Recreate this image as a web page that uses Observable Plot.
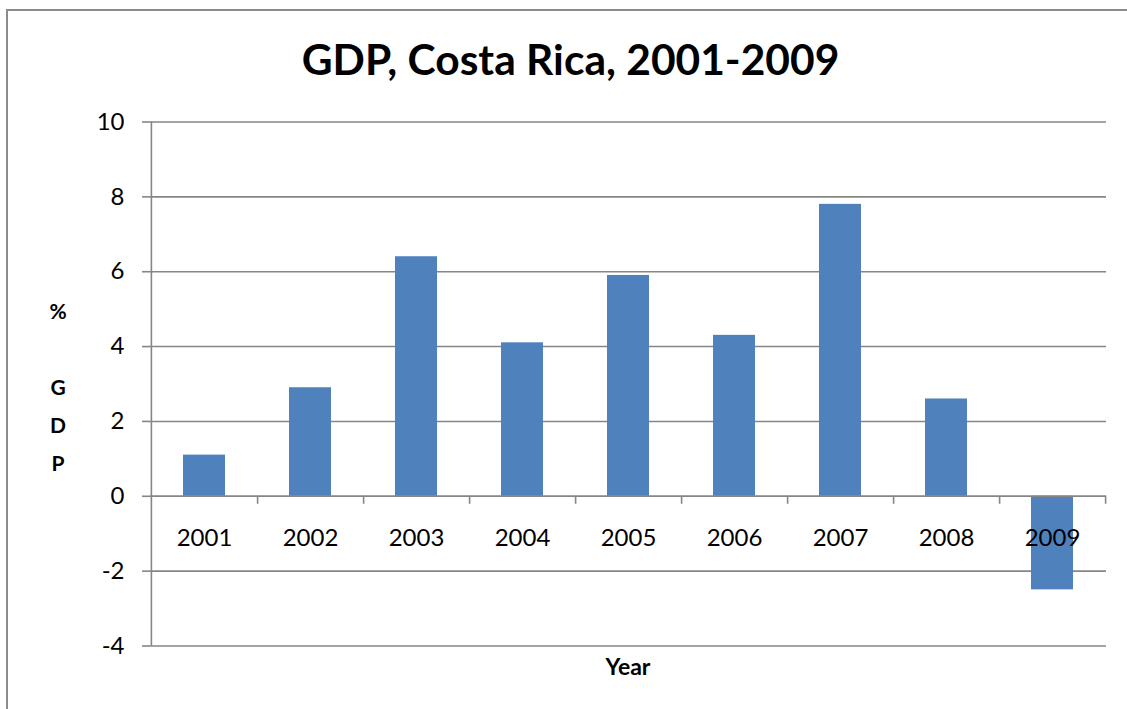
<!DOCTYPE html>
<html><head><meta charset="utf-8">
<script src="https://cdn.jsdelivr.net/npm/d3@7"></script>
<script src="https://cdn.jsdelivr.net/npm/@observablehq/plot@0.6"></script>
<style>
html,body{margin:0;padding:0;background:#fff;overflow:hidden}
#wrap{position:relative;width:1127px;height:709px;font-family:Lato,sans-serif}
#frame{position:absolute;left:6px;top:9px;width:1140px;height:720px;border:2px solid #8c8c8c;box-sizing:border-box}
#chart{position:absolute;left:0;top:0}
#overlay{position:absolute;left:0;top:0;pointer-events:none}
</style>
</head><body>
<div id="wrap"><div id="frame"></div><div id="chart"></div>
<svg id="overlay" width="1127" height="709" font-family="Lato, sans-serif" font-weight="bold" fill="#000">
  <text x="570.5" y="75" text-anchor="middle" font-size="42.5">GDP, Costa Rica, 2001-2009</text>
  <text x="628" y="675" text-anchor="middle" font-size="23">Year</text>
  <text x="58" y="319" text-anchor="middle" font-size="21">%</text>
  <text x="58" y="395" text-anchor="middle" font-size="21">G</text>
  <text x="58" y="433" text-anchor="middle" font-size="21">D</text>
  <text x="58" y="471" text-anchor="middle" font-size="21">P</text>
</svg>
</div>
<script>
const years = ["2001","2002","2003","2004","2005","2006","2007","2008","2009"];
const gdp = [1.1, 2.9, 6.4, 4.1, 5.9, 4.3, 7.8, 2.6, -2.5];
const yTicks = [-4, -2, 0, 2, 4, 6, 8, 10];
const data = years.map((year, i) => ({year, gdp: gdp[i]}));

const W = 1127, H = 709, ML = 150, MR = 21, MT = 121.5, MB = 63.5;
const step = (W - ML - MR) / years.length;
const gray = "#868686";

const chart = Plot.plot({
  width: W, height: H,
  marginLeft: ML, marginRight: MR, marginTop: MT, marginBottom: MB,
  style: {fontFamily: "Lato, sans-serif", fontSize: "24px", color: "#000", background: "transparent"},
  x: {domain: years, paddingInner: 0.6, paddingOuter: 0.3, axis: null},
  y: {domain: [-4, 10], axis: null},
  marks: [
    Plot.gridY(yTicks, {stroke: gray, strokeOpacity: 1, strokeWidth: 1.6}),
    Plot.ruleX([years[0]], {dx: -step / 2, stroke: gray, strokeWidth: 1.6}),
    Plot.axisY(yTicks, {tickSize: 8, tickPadding: 18, stroke: gray, strokeWidth: 1.6, fontSize: 24, label: null, tickFormat: d => String(d)}),
    Plot.barY(data, {x: "year", y: "gdp", fill: "#4F81BD"}),
    Plot.ruleY([0], {stroke: gray, strokeWidth: 1.6}),
    Plot.ruleX(years, {x: d => d, dx: step / 2, y1: 0, y2: 0, insetBottom: -8, stroke: gray, strokeWidth: 1.6}),
    Plot.text(data, {x: "year", y: 0, text: "year", dy: 42, fontSize: 24, fill: "#000"})
  ]
});
document.getElementById("chart").appendChild(chart);
</script>
</body></html>
